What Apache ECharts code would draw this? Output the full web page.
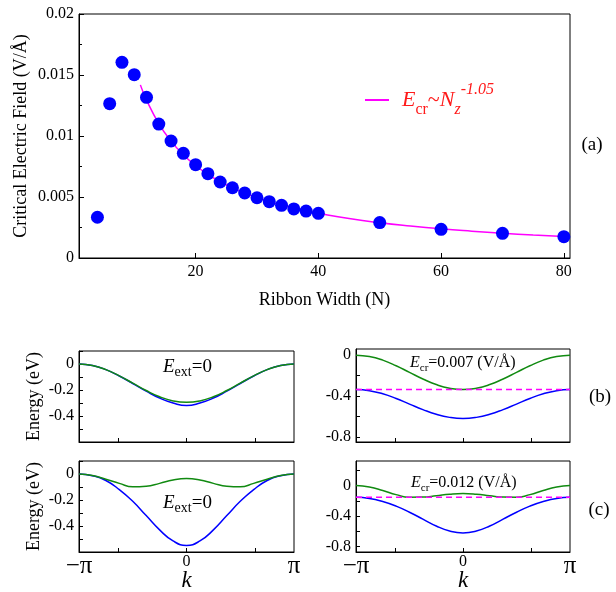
<!DOCTYPE html>
<html><head><meta charset="utf-8">
<script src="https://cdn.jsdelivr.net/npm/echarts@6/dist/echarts.min.js"></script>
<style>html,body{margin:0;padding:0;background:#fff}#c{width:616px;height:592px}</style>
</head><body><div id="c"></div>
<script>
// ---- panel (a): critical field vs ribbon width ----
const ribbonN = [4,6,8,10,12,14,16,18,20,22,24,26,28,30,32,34,36,38,40,50,60,70,80];
const critField = [0.00334,0.01265,0.01604,0.01503,0.01317,0.01098,0.00959,0.00858,0.00765,0.00691,0.00623,0.00576,0.00533,0.00494,0.00462,0.00432,0.00402,0.00385,0.00366,0.00290,0.00235,0.00202,0.00175];
const fitN = [11,12,14,16,18,20,22,24,26,28,30,32,34,36,38,40,45,50,55,60,65,70,75,80];
const fitField = [0.01419,0.01295,0.01102,0.00958,0.00846,0.00758,0.00685,0.00626,0.00575,0.00532,0.00495,0.00463,0.00434,0.00409,0.00386,0.00366,0.00323,0.00289,0.00262,0.00239,0.00220,0.00203,0.00189,0.00177];
const xTicksA = [20,40,60,80];

// ---- band panels ----
const kValues = [-3.1416,-2.7489,-2.3562,-1.9635,-1.5708,-1.1781,-0.7854,-0.3927,0,0.3927,0.7854,1.1781,1.5708,1.9635,2.3562,2.7489,3.1416];
const bLeftGreen = [0,-0.011,-0.043,-0.091,-0.147,-0.204,-0.252,-0.284,-0.295,-0.284,-0.252,-0.204,-0.147,-0.091,-0.043,-0.011,0];
const bLeftBlue  = [0,-0.011,-0.043,-0.092,-0.150,-0.209,-0.262,-0.300,-0.320,-0.300,-0.262,-0.209,-0.150,-0.092,-0.043,-0.011,0];
const cLeftGreen = [0,-0.012,-0.040,-0.072,-0.099,-0.095,-0.072,-0.046,-0.035,-0.046,-0.072,-0.095,-0.099,-0.072,-0.040,-0.012,0];
const cLeftBlue  = [0,-0.013,-0.050,-0.120,-0.210,-0.320,-0.430,-0.515,-0.550,-0.515,-0.430,-0.320,-0.210,-0.120,-0.050,-0.013,0];
const bRightGreen = [0,-0.013,-0.049,-0.104,-0.169,-0.233,-0.288,-0.324,-0.337,-0.324,-0.288,-0.233,-0.169,-0.104,-0.049,-0.013,0];
const bRightBlue  = [-0.337,-0.348,-0.378,-0.424,-0.479,-0.533,-0.579,-0.609,-0.620,-0.609,-0.579,-0.533,-0.479,-0.424,-0.378,-0.348,-0.337];
const cRightGreen = [0,-0.020,-0.065,-0.120,-0.154,-0.152,-0.134,-0.114,-0.105,-0.114,-0.134,-0.152,-0.154,-0.120,-0.065,-0.020,0];
const cRightBlue  = [-0.155,-0.170,-0.210,-0.270,-0.350,-0.440,-0.530,-0.595,-0.620,-0.595,-0.530,-0.440,-0.350,-0.270,-0.210,-0.170,-0.155];
const bRightLevel = -0.337;
const cRightLevel = -0.155;
const kTickLabels = [-Math.PI, 0, Math.PI];
const kTicks = [-2, 0, 2];
const leftTicks = [-0.6,-0.5,-0.4,-0.3,-0.2,-0.1,0,0.1];
const leftLabels = [-0.4,-0.2,0];
const rightTicksB = [-0.8,-0.6,-0.4,-0.2,0];
const rightTicksC = [-0.8,-0.6,-0.4,-0.2,0,0.2];
const rightLabels = [-0.8,-0.4,0];

const SERIF = "'Liberation Serif','Times New Roman',Times,serif";
const BLUE = '#0000ff', GREEN = '#118a11', MAG = '#ff00ff';
const pairs = (xs, ys) => xs.map((x, i) => [x, ys[i]]);

const chart = echarts.init(document.getElementById('c'), null, {renderer: 'canvas'});

const gridBase = {show: true, borderColor: '#000', borderWidth: 1, backgroundColor: 'transparent', containLabel: false, outerBoundsMode: 'none'};
const grids = [
  Object.assign({left: 79, top: 14, width: 491, height: 244}, gridBase),
  Object.assign({left: 79, top: 351, width: 215, height: 91}, gridBase),
  Object.assign({left: 79, top: 461, width: 215, height: 91}, gridBase),
  Object.assign({left: 356, top: 349, width: 214, height: 93}, gridBase),
  Object.assign({left: 356, top: 461, width: 214, height: 91}, gridBase)
];

const lineBlack = {show: true, onZero: false, lineStyle: {color: '#000', width: 1}};
const lblStyle = {color: '#000', fontFamily: SERIF, fontSize: 16};

function kAxis(gi, showLabels) {
  return {
    gridIndex: gi, type: 'value', min: -Math.PI, max: Math.PI,
    axisLine: lineBlack, splitLine: {show: false},
    axisTick: {show: true, inside: true, length: 4, customValues: kTicks, lineStyle: {color: '#000'}},
    axisLabel: {
      show: showLabels, customValues: kTickLabels, margin: 2, color: '#000', fontFamily: SERIF,
      formatter: v => v < -1 ? '{p|\u2212\u03c0}' : (v > 1 ? '{p|\u03c0}' : '{z|0}'),
      rich: {p: {fontSize: 25, fontFamily: SERIF, color: '#000'}, z: {fontSize: 16, fontFamily: SERIF, color: '#000'}}
    },
    name: showLabels ? 'k' : '', nameLocation: 'middle', nameGap: 17, nameMoveOverlap: false,
    nameTextStyle: {fontFamily: SERIF, fontStyle: 'italic', fontSize: 23, color: '#000'}
  };
}
function eAxis(gi, min, max, ticks, labels, withName) {
  return {
    gridIndex: gi, type: 'value', min: min, max: max,
    axisLine: lineBlack, splitLine: {show: false},
    axisTick: {show: true, inside: true, length: 4, customValues: ticks, lineStyle: {color: '#000'}},
    axisLabel: Object.assign({customValues: labels, margin: 5, formatter: v => String(Math.round(v * 100) / 100)}, lblStyle),
    name: withName ? 'Energy (eV)' : '', nameLocation: 'middle', nameRotate: 90, nameGap: 36, nameMoveOverlap: false,
    nameTextStyle: {fontFamily: SERIF, fontSize: 18, color: '#000'}
  };
}

const xAxes = [
  {
    gridIndex: 0, type: 'value', min: 1, max: 81,
    axisLine: lineBlack, splitLine: {show: false},
    axisTick: {show: true, inside: true, length: 5, customValues: xTicksA, lineStyle: {color: '#000'}},
    axisLabel: Object.assign({customValues: xTicksA, margin: 6}, lblStyle),
    name: 'Ribbon Width (N)', nameLocation: 'middle', nameGap: 33, nameMoveOverlap: false,
    nameTextStyle: {fontFamily: SERIF, fontSize: 18, color: '#000'}
  },
  kAxis(1, false), kAxis(2, true), kAxis(3, false), kAxis(4, true)
];
const yAxes = [
  {
    gridIndex: 0, type: 'value', min: 0, max: 0.02, interval: 0.005,
    axisLine: lineBlack, splitLine: {show: false},
    axisTick: {show: true, inside: true, length: 5, lineStyle: {color: '#000'}},
    minorTick: {show: true, splitNumber: 2, length: 3, lineStyle: {color: '#000'}},
    axisLabel: Object.assign({margin: 5}, lblStyle),
    name: 'Critical Electric Field (V/\u00c5)', nameLocation: 'middle', nameRotate: 90, nameGap: 49, nameMoveOverlap: false,
    nameTextStyle: {fontFamily: SERIF, fontSize: 18, color: '#000'}
  },
  eAxis(1, -0.6, 0.1, leftTicks, leftLabels, true),
  eAxis(2, -0.6, 0.1, leftTicks, leftLabels, true),
  eAxis(3, -0.85, 0.06, rightTicksB, rightLabels, false),
  eAxis(4, -0.87, 0.32, rightTicksC, rightLabels, false)
];

function band(gi, ys, color, z) {
  return {type: 'line', xAxisIndex: gi, yAxisIndex: gi, data: pairs(kValues, ys), smooth: true,
    symbol: 'none', lineStyle: {color: color, width: 1.5}, itemStyle: {color: color}, z: z, silent: true};
}
function level(gi, y) {
  return {type: 'line', xAxisIndex: gi, yAxisIndex: gi, data: [[-Math.PI, y], [Math.PI, y]],
    symbol: 'none', lineStyle: {color: MAG, width: 1.5, type: [6, 4]}, z: 5, silent: true};
}

const series = [
  {name: 'fit', type: 'line', xAxisIndex: 0, yAxisIndex: 0, data: pairs(fitN, fitField), smooth: true,
    symbol: 'none', lineStyle: {color: MAG, width: 1.5}, itemStyle: {color: MAG}, z: 2},
  {name: 'data', type: 'scatter', xAxisIndex: 0, yAxisIndex: 0, data: pairs(ribbonN, critField),
    symbolSize: 13, itemStyle: {color: BLUE, opacity: 1}, z: 3},
  band(1, bLeftBlue, BLUE, 3), band(1, bLeftGreen, GREEN, 4),
  band(2, cLeftBlue, BLUE, 3), band(2, cLeftGreen, GREEN, 4),
  band(3, bRightBlue, BLUE, 3), band(3, bRightGreen, GREEN, 4), level(3, bRightLevel),
  band(4, cRightBlue, BLUE, 3), band(4, cRightGreen, GREEN, 4), level(4, cRightLevel)
];

const RED = '#ff1a1a';
function eText(x, y, sub, rest, size, subSize, L) {
  return {
    type: 'text', x: x, y: y, silent: true,
    style: {
      text: '{e|E}{s|' + sub + '}{n|' + rest + '}', align: 'left', verticalAlign: 'middle',
      rich: {
        e: {fontFamily: SERIF, fontStyle: 'italic', fontSize: size, lineHeight: L, fill: '#000', color: '#000'},
        s: {fontFamily: SERIF, fontSize: subSize, lineHeight: L, verticalAlign: 'bottom', fill: '#000', color: '#000'},
        n: {fontFamily: SERIF, fontSize: size, lineHeight: L, fill: '#000', color: '#000'}
      }
    }
  };
}
function plainText(x, y, t) {
  return {type: 'text', x: x, y: y, silent: true,
    style: {text: t, align: 'center', verticalAlign: 'middle', font: '19px ' + SERIF, fill: '#000'}};
}

const option = {
  animation: false,
  backgroundColor: '#fff',
  grid: grids,
  xAxis: xAxes,
  yAxis: yAxes,
  series: series,
  legend: {
    data: [{name: 'fit', icon: 'rect', itemStyle: {color: MAG}}],
    left: 365, top: 82, padding: 0, itemWidth: 24, itemHeight: 2, selectedMode: false,
    formatter: () => '{e|E}{cr|cr}{t|~}{n|N}{z|z}{p|-1.05}',
    textStyle: {
      color: RED,
      rich: {
        e: {fontFamily: SERIF, fontStyle: 'italic', fontSize: 22, lineHeight: 36, color: RED, padding: [0, 0, 0, 8]},
        cr: {fontFamily: SERIF, fontSize: 16, lineHeight: 36, verticalAlign: 'bottom', color: RED},
        t: {fontFamily: SERIF, fontSize: 22, lineHeight: 36, color: RED},
        n: {fontFamily: SERIF, fontStyle: 'italic', fontSize: 22, lineHeight: 36, color: RED},
        z: {fontFamily: SERIF, fontStyle: 'italic', fontSize: 16, lineHeight: 36, verticalAlign: 'bottom', color: RED},
        p: {fontFamily: SERIF, fontStyle: 'italic', fontSize: 16, lineHeight: 36, verticalAlign: 'top', color: RED}
      }
    }
  },
  graphic: [
    eText(163, 367, 'ext', '=0', 19, 14, 24),
    eText(163, 503, 'ext', '=0', 19, 14, 24),
    eText(410, 363, 'cr', '=0.007 (V/\u00c5)', 16, 11, 21),
    eText(411, 483, 'cr', '=0.012 (V/\u00c5)', 16, 11, 21),
    plainText(592, 145, '(a)'),
    plainText(600, 397, '(b)'),
    plainText(599, 510, '(c)')
  ]
};
chart.setOption(option);
</script></body></html>
